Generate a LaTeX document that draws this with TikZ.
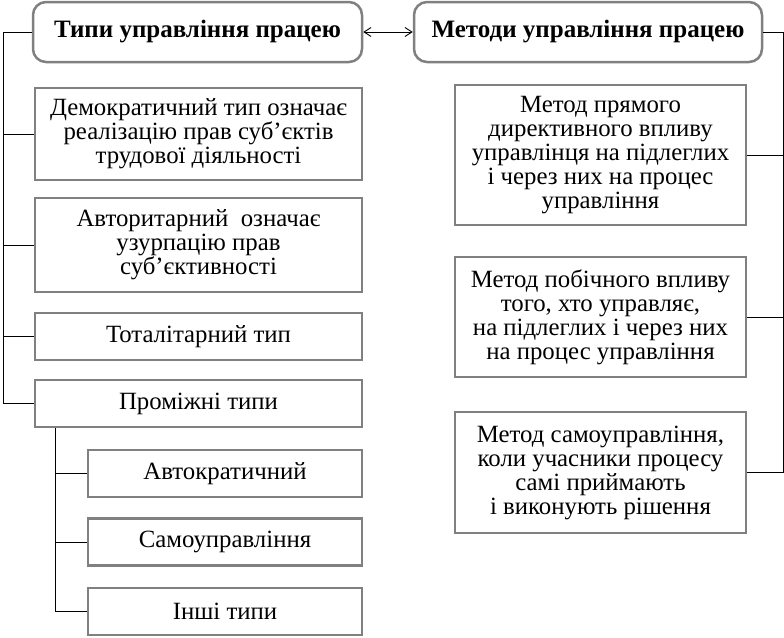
\documentclass[tikz,border=0pt]{standalone}
\usepackage{fontspec}
\setmainfont{Liberation Serif}
\usetikzlibrary{arrows.meta,positioning}
\begin{document}
\begin{tikzpicture}[x=1pt,y=-1pt,font=\fontsize{24.8}{24}\selectfont,
 b/.style={draw=gray,line width=2.5pt,fill=white,align=center,inner sep=0pt},
 t/.style={b,rounded corners=13pt,minimum height=60pt,font=\fontsize{25}{28}\selectfont\bfseries},
 l/.style={line width=0.9pt}]
\useasboundingbox (0,0) rectangle (784,637);
% headings
\node[t,minimum width=329pt](tl) at (197.5,32){Типи управління працею};
\node[t,minimum width=348pt](tr) at (588,32){Методи управління працею};
% types of management
\node[b,minimum width=327pt,minimum height=92pt](dem) at (198.5,134){Демократичний тип означає\\реалізацію прав суб’єктів\\трудової діяльності};
\node[b,minimum width=327pt,minimum height=94pt](avt) at (198.5,245){Авторитарний\ \ означає\\узурпацію прав\\суб’єктивності};
\node[b,minimum width=327pt,minimum height=47pt](tot) at (198.5,336.5){Тоталітарний тип};
\node[b,minimum width=327pt,minimum height=47pt](pro) at (198.5,403.5){Проміжні типи};
\node[b,minimum width=274pt,minimum height=47pt](aut) at (225,473.5){Автократичний};
\node[b,minimum width=274pt,minimum height=47pt](sam) at (225,542){Самоуправління};
\node[b,minimum width=274pt,minimum height=47pt](inh) at (225,611.5){Інші типи};
% methods
\node[b,minimum width=291pt,minimum height=140pt](mp) at (600.5,155){Метод прямого\\директивного впливу\\управлінця на підлеглих\\і через них на процес\\управління};
\node[b,minimum width=291pt,minimum height=120pt](mb) at (600.5,317){Метод побічного впливу\\того, хто управляє,\\на підлеглих і через них\\на процес управління};
\node[b,minimum width=291pt,minimum height=121pt](ms) at (600.5,472.5){Метод самоуправління,\\коли учасники процесу\\самі приймають\\і виконують рішення};
% trunks
\coordinate (lt) at (3,0);
\coordinate (st) at (55,0);
\coordinate (rt) at (783,0);
\draw[l,{Straight Barb[length=7pt,width=9pt]}-{Straight Barb[length=7pt,width=9pt]}](tl.east)--(tr.west);
\foreach \n in {dem,avt,tot,pro}
 \draw[l](tl.west)--(tl.west-|lt)|-(\n.west);
\foreach \n in {aut,sam,inh}
 \draw[l](pro.south-|st)|-(\n.west);
\foreach \n in {mp,mb,ms}
 \draw[l](tr.east)--(tr.east-|rt)|-(\n.east);
\end{tikzpicture}
\end{document}
